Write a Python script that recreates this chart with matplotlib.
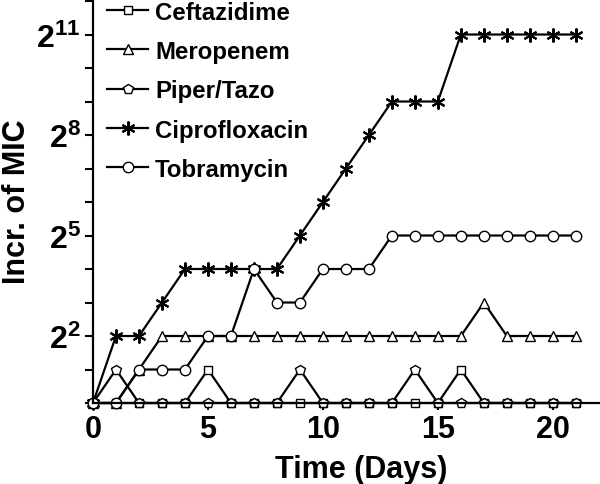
import matplotlib
matplotlib.use("Agg")
import matplotlib.pyplot as plt
from matplotlib.ticker import FixedLocator, FuncFormatter
import math

plt.rcParams['font.family'] = ['Liberation Sans', 'DejaVu Sans']
plt.rcParams['font.weight'] = 'bold'
plt.rcParams['mathtext.fontset'] = 'custom'
plt.rcParams['mathtext.rm'] = 'Liberation Sans:bold'
plt.rcParams['mathtext.bf'] = 'Liberation Sans:bold'
plt.rcParams['mathtext.it'] = 'Liberation Sans:bold'

days = list(range(22))
# log2 of MIC increase
ceftazidime = [0,0,0,0,0,1,0,0,0,0,0,0,0,0,0,0,1,0,0,0,0,0]
meropenem   = [0,0,1,2,2,2,2,2,2,2,2,2,2,2,2,2,2,3,2,2,2,2]
piper_tazo  = [0,1,0,0,0,0,0,0,0,1,0,0,0,0,1,0,0,0,0,0,0,0]
ciprofloxacin = [0,2,2,3,4,4,4,4,4,5,6,7,8,9,9,9,11,11,11,11,11,11]
tobramycin  = [0,0,1,1,1,2,2,4,3,3,4,4,4,5,5,5,5,5,5,5,5,5]

series_names = ['Ceftazidime', 'Meropenem', 'Piper/Tazo', 'Ciprofloxacin', 'Tobramycin']
series_vals = [ceftazidime, meropenem, piper_tazo, ciprofloxacin, tobramycin]
markers = ['s', '^', 'p', (6, 2, 0), 'o']
msizes = [6, 7.5, 7.5, 10, 7.5]
mews = [1.0, 1.0, 1.0, 1.5, 1.0]

x_ticks = [0, 5, 10, 15, 20]
y_label_exps = [2, 5, 8, 11]

fig = plt.figure(figsize=(6, 4.85), dpi=100)
ax = fig.add_axes([0.155, 0.167, 0.843, 0.833])

for name, vals, m, ms, mew in zip(series_names, series_vals, markers, msizes, mews):
    yv = [2.0 ** v for v in vals]
    ax.plot(days, yv, color='black', lw=1.6, marker=m, markersize=ms,
            markerfacecolor='white', markeredgecolor='black', markeredgewidth=mew,
            label=name, clip_on=False)

ax.set_yscale('log', base=2)
ax.set_xlim(0, 22)
ax.set_ylim(1, 2 ** 12.06)

ax.xaxis.set_major_locator(FixedLocator(x_ticks))
ax.xaxis.set_minor_locator(FixedLocator([]))
ax.yaxis.set_major_locator(FixedLocator([2.0 ** e for e in range(0, 13)]))
ax.yaxis.set_minor_locator(FixedLocator([]))

def yfmt(v, pos):
    e = int(round(math.log2(v)))
    if e in y_label_exps:
        return r'$\mathbf{2^{%d}}$' % e
    return ''
ax.yaxis.set_major_formatter(FuncFormatter(yfmt))

ax.tick_params(axis='x', which='major', direction='out', length=5, width=1.5,
               labelsize=22, pad=3)
ax.tick_params(axis='y', which='major', direction='out', length=6, width=1.5,
               labelsize=23, pad=3)
for s in ['top', 'right']:
    ax.spines[s].set_visible(False)
for s in ['left', 'bottom']:
    ax.spines[s].set_linewidth(1.6)

ax.set_xlabel('Time (Days)', fontsize=22, fontweight='bold')
ax.set_ylabel('Incr. of MIC', fontsize=22, fontweight='bold')
ax.xaxis.set_label_coords(0.53, -0.125)
ax.yaxis.set_label_coords(-0.12, 0.5)

leg = ax.legend(loc='upper left', bbox_to_anchor=(0.009, 1.02), frameon=False,
                fontsize=17.3, numpoints=1, handlelength=1.7, handletextpad=0.3,
                labelspacing=0.68, borderaxespad=0)

fig.savefig('out.png', dpi=100)
